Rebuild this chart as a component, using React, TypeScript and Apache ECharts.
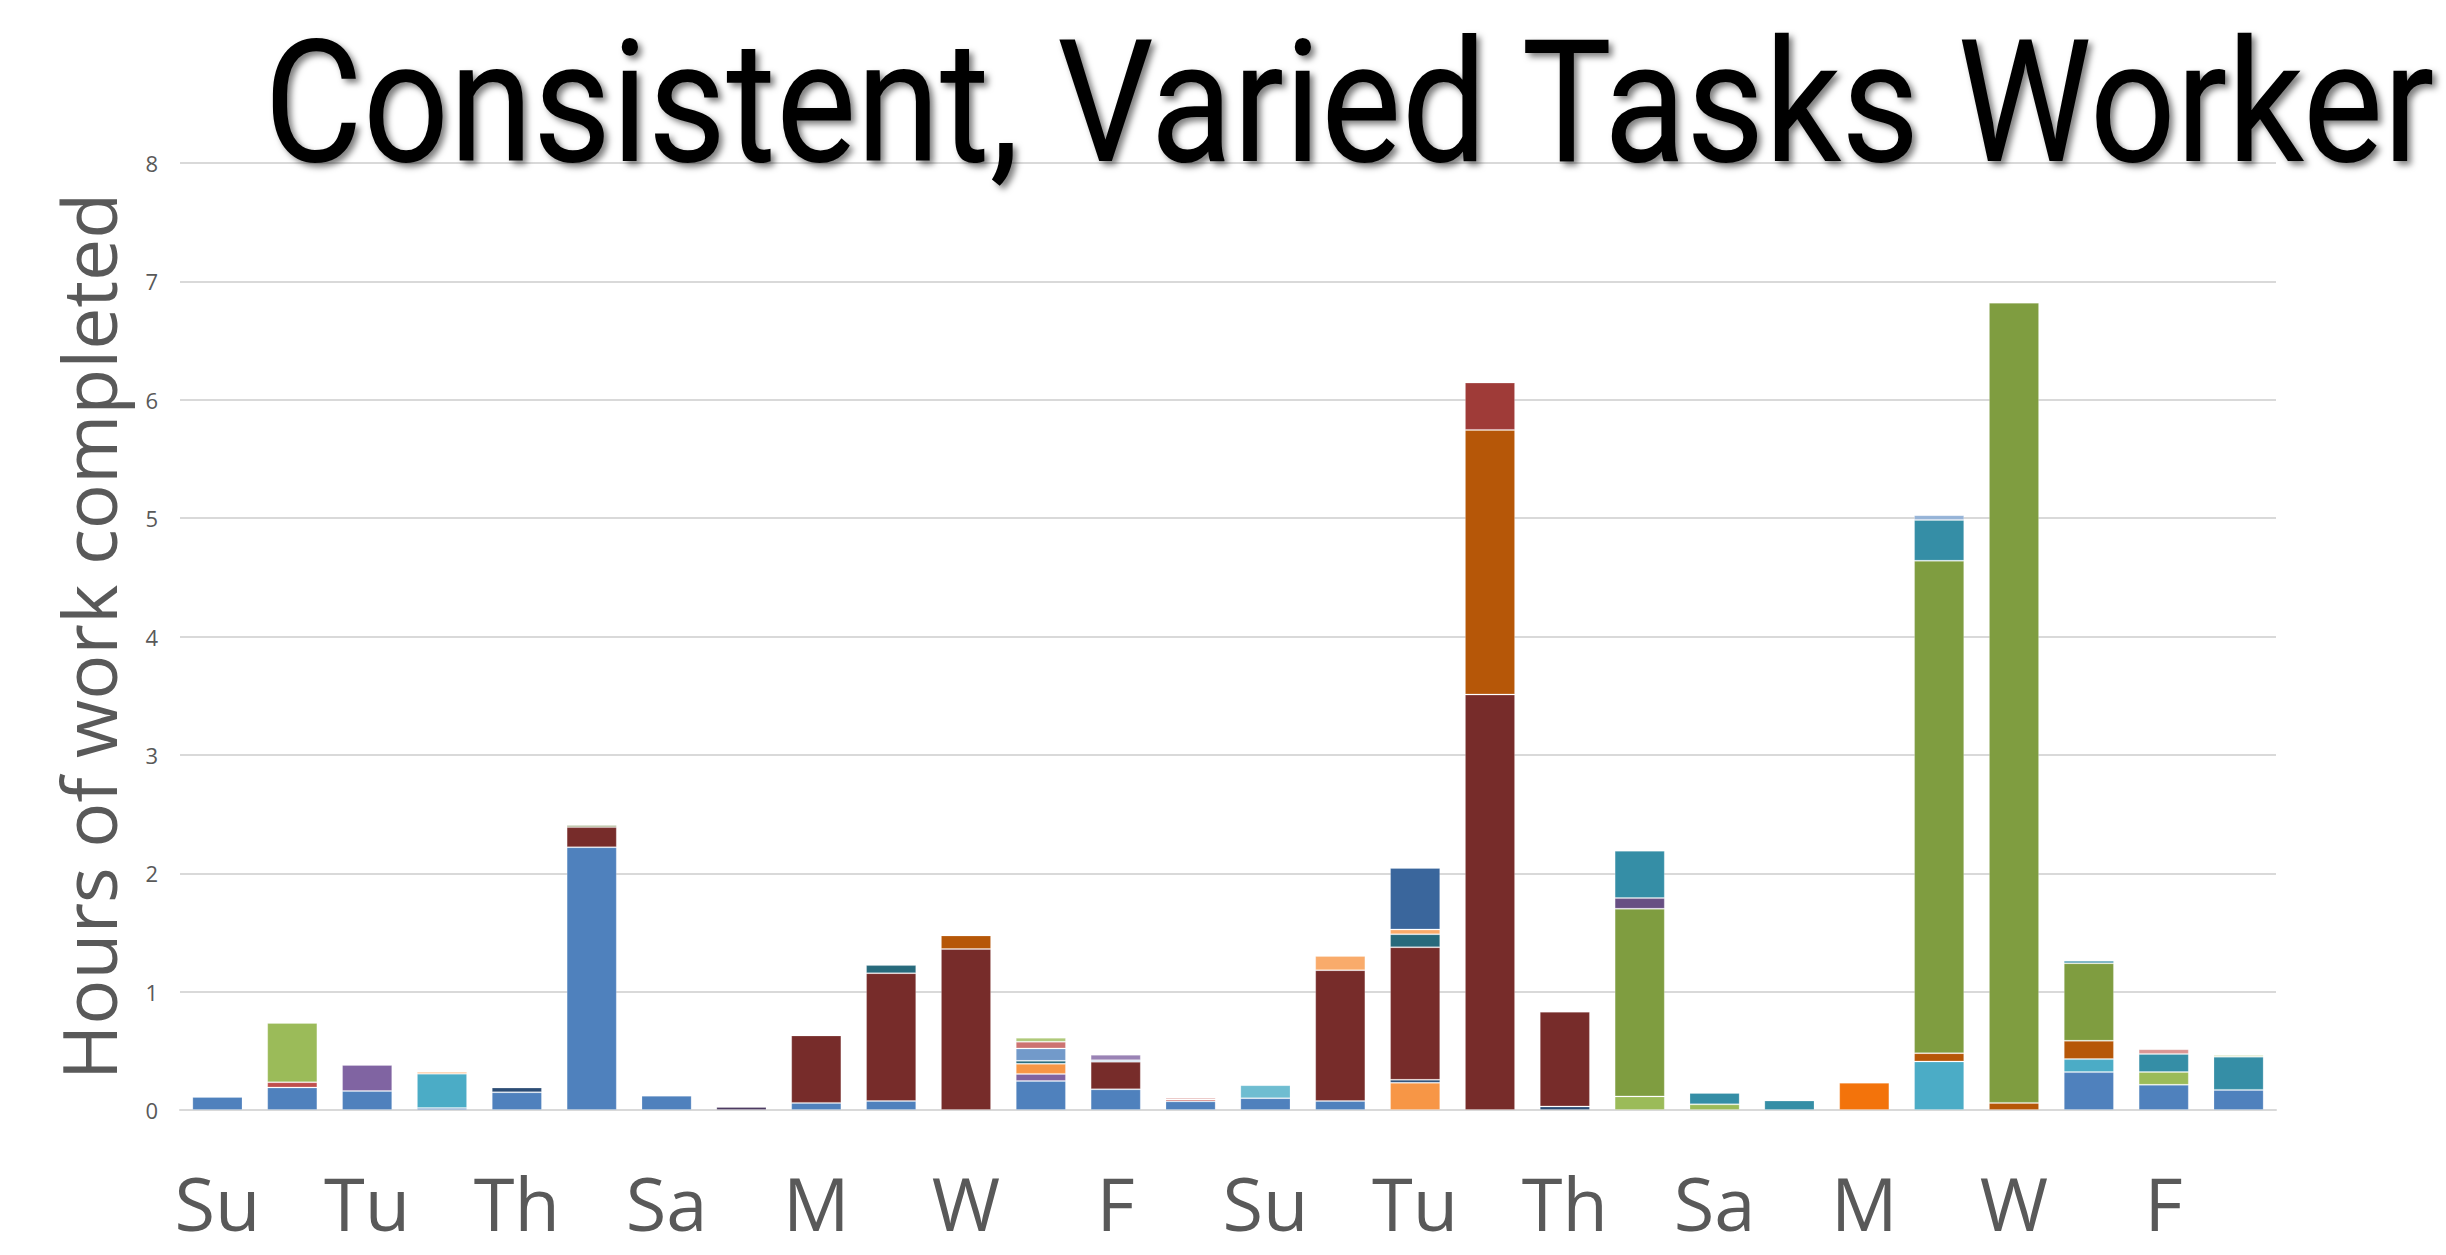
import React, { useEffect, useRef } from "react";
import * as echarts from "echarts";

const categories = [
  "Su", "M", "Tu", "W", "Th", "F", "Sa",
  "Su", "M", "Tu", "W", "Th", "F", "Sa",
  "Su", "M", "Tu", "W", "Th", "F", "Sa",
  "Su", "M", "Tu", "W", "Th", "F", "Sa",
];

const titleText = "Consistent, Varied Tasks Worker";
const yAxisTitle = "Hours of work completed";

// Hours per task type, one value per day (4 weeks, Sunday first)
const task01 = [0.11, 0.19, 0.16, 0.017, 0.15, 2.22, 0.12, 0, 0.06, 0.076, 0, 0.245, 0.175, 0.073, 0.1, 0.076, 0, 0, 0, 0, 0, 0, 0, 0, 0, 0.32, 0.213, 0.17];
const task02 = [0, 0.045, 0, 0, 0, 0, 0, 0, 0, 0, 0, 0, 0, 0.015, 0, 0, 0, 0, 0, 0, 0, 0, 0, 0, 0, 0, 0, 0];
const task03 = [0, 0.5, 0, 0, 0, 0, 0, 0, 0, 0, 0, 0, 0, 0, 0, 0, 0, 0, 0, 0.115, 0.048, 0, 0, 0, 0, 0, 0.108, 0];
const task04 = [0, 0, 0.22, 0, 0, 0, 0, 0, 0, 0, 0, 0.06, 0, 0, 0, 0, 0, 0, 0, 0, 0, 0, 0, 0, 0, 0, 0, 0];
const task05 = [0, 0, 0, 0.29, 0, 0, 0, 0, 0, 0, 0, 0, 0, 0, 0, 0, 0, 0, 0, 0, 0, 0, 0, 0.41, 0, 0.11, 0, 0];
const task06 = [0, 0, 0, 0.014, 0, 0, 0, 0, 0, 0, 0, 0.085, 0, 0, 0, 0, 0.23, 0, 0, 0, 0, 0, 0, 0, 0, 0, 0, 0];
const task07 = [0, 0, 0, 0, 0.04, 0, 0, 0, 0, 0, 0, 0, 0, 0, 0, 0, 0.025, 0, 0.03, 0, 0, 0, 0, 0, 0, 0, 0, 0];
const task08 = [0, 0, 0, 0, 0, 0.17, 0, 0, 0.57, 1.08, 1.36, 0, 0.232, 0, 0, 1.105, 1.12, 3.51, 0.8, 0, 0, 0, 0, 0, 0, 0, 0, 0];
const task09 = [0, 0, 0, 0, 0, 0.015, 0, 0, 0, 0, 0, 0, 0, 0, 0, 0, 0, 0, 0, 0, 0, 0, 0, 0, 0, 0, 0, 0];
const task10 = [0, 0, 0, 0, 0, 0, 0, 0.025, 0, 0, 0, 0, 0, 0, 0, 0, 0, 0, 0, 0, 0, 0, 0, 0, 0, 0, 0, 0];
const task11 = [0, 0, 0, 0, 0, 0, 0, 0, 0, 0.068, 0, 0.025, 0, 0, 0, 0, 0.11, 0, 0, 0, 0, 0, 0, 0, 0, 0, 0, 0];
const task12 = [0, 0, 0, 0, 0, 0, 0, 0, 0, 0, 0.115, 0, 0, 0, 0, 0, 0, 2.235, 0, 0, 0, 0, 0, 0.07, 0.06, 0.155, 0, 0];
const task13 = [0, 0, 0, 0, 0, 0, 0.006, 0, 0, 0, 0, 0.105, 0.014, 0, 0, 0, 0, 0, 0, 0, 0, 0, 0, 0, 0, 0, 0, 0];
const task14 = [0, 0, 0, 0, 0, 0, 0, 0, 0.006, 0, 0, 0.056, 0, 0.014, 0, 0, 0, 0, 0, 0, 0, 0, 0, 0, 0, 0, 0, 0];
const task15 = [0, 0, 0, 0, 0, 0, 0, 0, 0, 0, 0, 0.034, 0, 0, 0, 0, 0, 0, 0, 0, 0, 0, 0, 0, 0, 0, 0, 0];
const task16 = [0, 0, 0, 0, 0, 0, 0, 0, 0, 0, 0, 0, 0.045, 0, 0, 0, 0, 0, 0, 0, 0, 0, 0, 0, 0, 0, 0, 0];
const task17 = [0, 0, 0, 0, 0, 0, 0, 0, 0, 0, 0, 0, 0, 0, 0.11, 0, 0, 0, 0, 0, 0, 0, 0, 0, 0, 0, 0, 0];
const task18 = [0, 0, 0, 0, 0, 0, 0, 0, 0, 0, 0, 0, 0, 0, 0, 0.12, 0.04, 0, 0, 0, 0, 0, 0, 0, 0, 0, 0, 0];
const task19 = [0, 0, 0, 0, 0, 0, 0, 0, 0, 0, 0, 0, 0, 0, 0, 0, 0.52, 0, 0, 0, 0, 0, 0, 0, 0, 0, 0, 0];
const task20 = [0, 0, 0, 0, 0, 0, 0, 0, 0, 0, 0, 0, 0, 0, 0, 0, 0, 0.4, 0, 0, 0, 0, 0, 0, 0, 0, 0, 0];
const task21 = [0, 0, 0, 0, 0, 0, 0, 0, 0, 0, 0, 0, 0, 0, 0, 0, 0, 0, 0, 1.585, 0, 0, 0, 4.16, 6.76, 0.655, 0, 0];
const task22 = [0, 0, 0, 0, 0, 0, 0, 0, 0, 0, 0, 0, 0, 0, 0, 0, 0, 0, 0, 0.09, 0, 0, 0, 0, 0, 0, 0, 0];
const task23 = [0, 0, 0, 0, 0, 0, 0, 0, 0, 0, 0, 0, 0, 0, 0, 0, 0, 0, 0, 0.4, 0.096, 0.08, 0, 0.345, 0, 0.02, 0.153, 0.28];
const task24 = [0, 0, 0, 0, 0, 0, 0, 0, 0, 0, 0, 0, 0, 0, 0, 0, 0, 0, 0, 0, 0, 0, 0.23, 0, 0, 0, 0, 0];
const task25 = [0, 0, 0, 0, 0, 0, 0, 0, 0, 0, 0, 0, 0, 0, 0, 0, 0, 0, 0, 0, 0, 0, 0, 0.04, 0, 0, 0, 0];
const task26 = [0, 0, 0, 0, 0, 0, 0, 0, 0, 0, 0, 0, 0, 0, 0, 0, 0, 0, 0, 0, 0, 0, 0, 0, 0, 0, 0.04, 0];
const task27 = [0, 0, 0, 0, 0, 0, 0, 0, 0, 0, 0, 0, 0, 0, 0, 0, 0, 0, 0, 0, 0, 0, 0, 0, 0, 0, 0, 0.015];

const tasks = [
  task01, task02, task03, task04, task05, task06, task07, task08, task09,
  task10, task11, task12, task13, task14, task15, task16, task17, task18,
  task19, task20, task21, task22, task23, task24, task25, task26, task27,
];

const taskColors = [
  "#4F81BD", "#C0504D", "#9BBB59", "#8064A2", "#4BACC6", "#F79646",
  "#2C4D75", "#772C2A", "#5F7530", "#4D3B62", "#276A7C", "#B65708",
  "#729ACA", "#CD7371", "#AFC97A", "#9A83B5", "#6FBDD1", "#F9AB6B",
  "#3A669C", "#9F3B38", "#7F9D40", "#674F83", "#358EA6", "#F3730B",
  "#95B3D7", "#D99694", "#C3D69B",
];

const FONT = '"Open Sans", "Noto Sans", sans-serif';
const TITLE_FONT = 'Roboto, "Open Sans", sans-serif';

export default function App() {
  const ref = useRef<HTMLDivElement>(null);

  useEffect(() => {
    document.body.style.margin = "0";
    document.body.style.overflow = "hidden";
    const chart = echarts.init(ref.current as HTMLDivElement, null, { renderer: "svg" });
    chart.setOption({
      animation: false,
      backgroundColor: "#ffffff",
      grid: { left: 180, right: 170, top: 163, bottom: 145, containLabel: false },
      xAxis: {
        type: "category",
        data: categories,
        axisLine: { lineStyle: { color: "#D9D9D9", width: 2 } },
        axisTick: { show: false },
        axisLabel: {
          interval: 1,
          fontSize: 74,
          lineHeight: 60,
          color: "#595959",
          fontFamily: FONT,
          margin: 62,
        },
      },
      yAxis: {
        type: "value",
        min: 0,
        max: 8,
        interval: 1,
        axisLine: { show: false },
        axisTick: { show: false },
        axisLabel: { fontSize: 22, color: "#595959", fontFamily: FONT, margin: 22 },
        splitLine: { lineStyle: { color: "#D9D9D9", width: 2 } },
        name: yAxisTitle,
        nameLocation: "middle",
        nameRotate: 90,
        nameGap: 55,
        nameTextStyle: { fontSize: 75, color: "#595959", fontFamily: FONT },
      },
      series: tasks.map((d, i) => ({
        type: "bar",
        name: `Task ${i + 1}`,
        stack: "total",
        barCategoryGap: "33%",
        data: d.map((v) => (v === 0 ? null : v)),
        itemStyle: {
          color: taskColors[i],
          borderColor: "rgba(255,255,255,0.22)",
          borderWidth: 1,
        },
      })),
      graphic: [
        {
          type: "text",
          x: 264,
          y: 103,
          scaleX: 0.892,
          z: 100,
          style: {
            text: titleText,
            fontSize: 170,
            fontFamily: TITLE_FONT,
            fill: "#000000",
            textVerticalAlign: "middle",
            verticalAlign: "middle",
            textAlign: "left",
            textShadowColor: "rgba(0,0,0,0.5)",
            textShadowBlur: 6,
            textShadowOffsetX: 4,
            textShadowOffsetY: 4,
          },
        },
      ],
    });
    return () => chart.dispose();
  }, []);

  return <div ref={ref} style={{ width: 2446, height: 1255 }} />;
}
